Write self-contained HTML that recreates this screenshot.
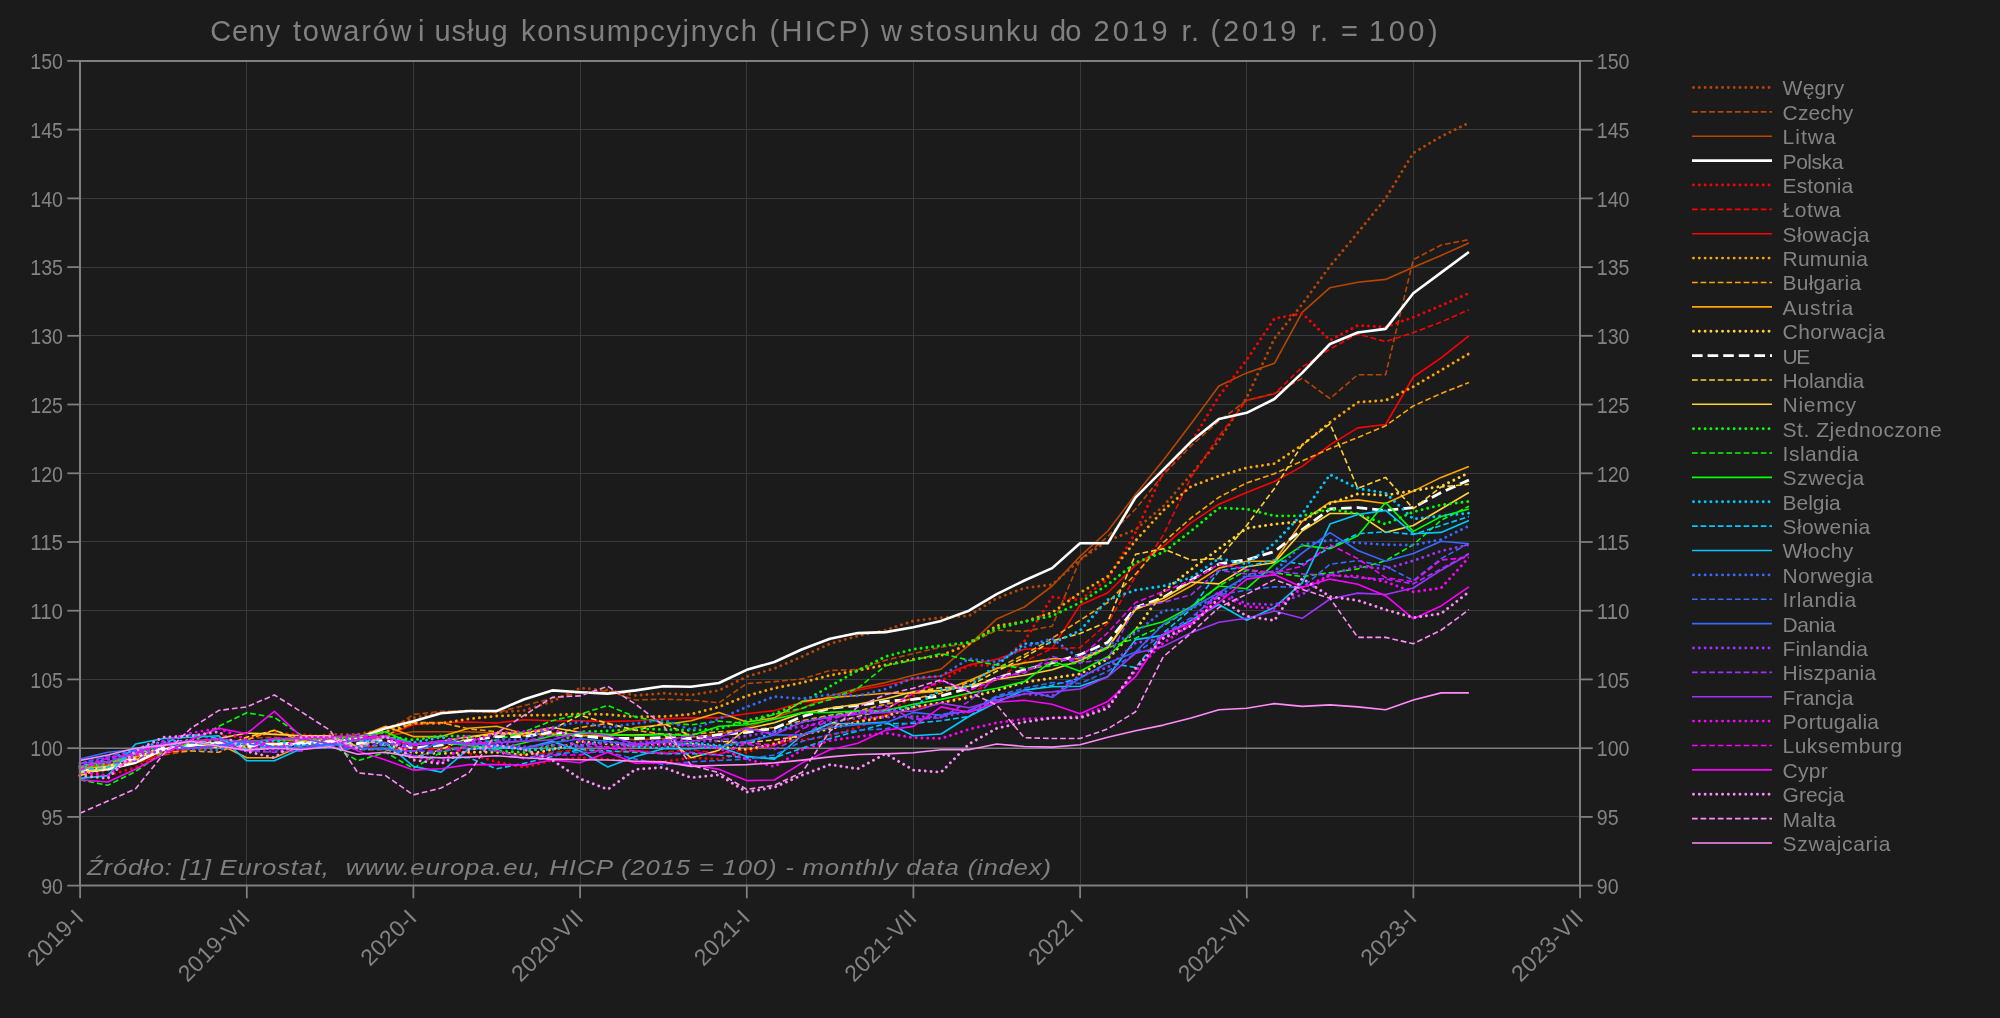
<!DOCTYPE html>
<html lang="pl"><head><meta charset="utf-8"><title>HICP</title>
<style>html,body{margin:0;padding:0;background:#1b1b1b;}body{width:2000px;height:1018px;overflow:hidden;}svg{display:block;will-change:transform;}text{font-family:"Liberation Sans",sans-serif;}</style>
</head><body>
<svg width="2000" height="1018" viewBox="0 0 2000 1018">
<rect x="0" y="0" width="2000" height="1018" fill="#1b1b1b"/>
<g stroke="#3a3a3a" stroke-width="1" shape-rendering="crispEdges">
<line x1="246.5" y1="60.9" x2="246.5" y2="885.6"/>
<line x1="413.5" y1="60.9" x2="413.5" y2="885.6"/>
<line x1="580.5" y1="60.9" x2="580.5" y2="885.6"/>
<line x1="746.5" y1="60.9" x2="746.5" y2="885.6"/>
<line x1="913.5" y1="60.9" x2="913.5" y2="885.6"/>
<line x1="1080.5" y1="60.9" x2="1080.5" y2="885.6"/>
<line x1="1246.5" y1="60.9" x2="1246.5" y2="885.6"/>
<line x1="1413.5" y1="60.9" x2="1413.5" y2="885.6"/>
<line x1="80.0" y1="816.5" x2="1580.0" y2="816.5"/>
<line x1="80.0" y1="679.5" x2="1580.0" y2="679.5"/>
<line x1="80.0" y1="610.5" x2="1580.0" y2="610.5"/>
<line x1="80.0" y1="541.5" x2="1580.0" y2="541.5"/>
<line x1="80.0" y1="473.5" x2="1580.0" y2="473.5"/>
<line x1="80.0" y1="404.5" x2="1580.0" y2="404.5"/>
<line x1="80.0" y1="335.5" x2="1580.0" y2="335.5"/>
<line x1="80.0" y1="267.5" x2="1580.0" y2="267.5"/>
<line x1="80.0" y1="198.5" x2="1580.0" y2="198.5"/>
<line x1="80.0" y1="129.5" x2="1580.0" y2="129.5"/>
</g>
<line x1="80.0" y1="748.15" x2="1580.0" y2="748.15" stroke="#7f7f7f" stroke-width="1.5"/>
<g fill="none" stroke-linejoin="round">
<polyline points="80.0,775.6 107.8,770.1 135.6,761.9 163.3,750.9 191.1,742.7 218.9,742.7 246.7,741.3 274.4,742.7 302.2,738.5 330.0,734.4 357.8,734.4 385.6,728.9 413.3,717.9 441.1,712.4 468.9,710.6 496.7,712.4 524.4,710.4 552.2,701.4 580.0,688.2 607.8,689.9 635.6,695.5 663.3,693.2 691.1,695.0 718.9,690.4 746.7,676.7 774.4,668.4 802.2,656.5 830.0,643.7 857.8,635.9 885.6,630.2 913.3,620.9 941.1,617.6 968.9,615.9 996.7,598.3 1024.4,588.0 1052.2,584.6 1080.0,559.8 1107.8,540.6 1135.6,529.6 1163.3,506.2 1191.1,474.6 1218.9,440.3 1246.7,397.7 1274.4,338.5 1302.2,304.2 1330.0,266.1 1357.8,232.7 1385.6,198.4 1413.3,153.0 1441.1,136.5 1468.9,122.8" stroke="#b84600" stroke-width="2.9" stroke-dasharray="0.01 5.8" stroke-linecap="round"/>
<polyline points="80.0,771.5 107.8,768.8 135.6,763.3 163.3,755.0 191.1,750.9 218.9,745.4 246.7,738.5 274.4,737.2 302.2,741.3 330.0,737.2 357.8,735.8 385.6,733.0 413.3,714.5 441.1,711.3 468.9,711.0 496.7,712.4 524.4,705.5 552.2,698.3 580.0,692.5 607.8,690.8 635.6,700.0 663.3,699.2 691.1,700.0 718.9,702.8 746.7,683.5 774.4,681.6 802.2,678.9 830.0,670.5 857.8,669.5 885.6,660.2 913.3,653.6 941.1,647.1 968.9,643.7 996.7,630.2 1024.4,631.3 1052.2,626.2 1080.0,559.8 1107.8,536.5 1135.6,509.0 1163.3,474.6 1191.1,445.8 1218.9,421.0 1246.7,400.4 1274.4,393.5 1302.2,378.4 1330.0,398.5 1357.8,374.7 1385.6,374.7 1413.3,259.7 1441.1,245.1 1468.9,239.6" stroke="#b84600" stroke-width="1.6" stroke-dasharray="5.7 2.9"/>
<polyline points="80.0,767.4 107.8,764.6 135.6,757.8 163.3,748.2 191.1,744.0 218.9,742.7 246.7,745.4 274.4,745.4 302.2,744.0 330.0,741.3 357.8,739.9 385.6,735.8 413.3,731.7 441.1,731.7 468.9,731.7 496.7,733.0 524.4,735.8 552.2,733.0 580.0,734.4 607.8,737.2 635.6,739.9 663.3,738.5 691.1,737.2 718.9,734.4 746.7,727.5 774.4,717.9 802.2,708.3 830.0,695.9 857.8,688.2 885.6,682.6 913.3,675.3 941.1,669.1 968.9,645.1 996.7,618.9 1024.4,607.0 1052.2,586.0 1080.0,556.3 1107.8,531.0 1135.6,494.3 1163.3,460.2 1191.1,423.8 1218.9,386.0 1246.7,372.9 1274.4,363.3 1302.2,312.4 1330.0,287.7 1357.8,282.2 1385.6,279.4 1413.3,267.3 1441.1,255.4 1468.9,243.0" stroke="#b84600" stroke-width="1.6"/>
<polyline points="80.0,774.3 107.8,775.6 135.6,767.4 163.3,752.3 191.1,744.0 218.9,735.8 246.7,737.2 274.4,733.0 302.2,734.4 330.0,737.2 357.8,741.3 385.6,742.7 413.3,742.7 441.1,744.0 468.9,753.6 496.7,761.9 524.4,767.4 552.2,760.5 580.0,757.8 607.8,759.1 635.6,761.9 663.3,761.9 691.1,757.8 718.9,759.1 746.7,752.3 774.4,742.7 802.2,739.9 830.0,735.8 857.8,727.5 885.6,715.2 913.3,695.9 941.1,680.8 968.9,665.4 996.7,665.4 1024.4,641.2 1052.2,597.0 1080.0,600.1 1107.8,579.1 1135.6,532.4 1163.3,471.9 1191.1,442.3 1218.9,396.3 1246.7,359.9 1274.4,318.5 1302.2,313.4 1330.0,340.2 1357.8,325.4 1385.6,327.0 1413.3,317.2 1441.1,305.6 1468.9,293.2" stroke="#ff0000" stroke-width="2.9" stroke-dasharray="0.01 5.8" stroke-linecap="round"/>
<polyline points="80.0,768.8 107.8,766.0 135.6,756.4 163.3,748.2 191.1,742.7 218.9,739.9 246.7,741.3 274.4,744.0 302.2,744.0 330.0,744.0 357.8,745.4 385.6,749.5 413.3,748.2 441.1,749.5 468.9,748.2 496.7,750.9 524.4,755.0 552.2,752.3 580.0,749.5 607.8,752.3 635.6,750.9 663.3,752.3 691.1,749.5 718.9,753.6 746.7,749.5 774.4,745.4 802.2,735.8 830.0,726.2 857.8,720.7 885.6,715.2 913.3,708.3 941.1,702.8 968.9,694.5 996.7,679.4 1024.4,661.6 1052.2,648.4 1080.0,647.8 1107.8,623.1 1135.6,576.3 1163.3,535.1 1191.1,477.4 1218.9,436.1 1246.7,400.4 1274.4,393.8 1302.2,367.0 1330.0,349.1 1357.8,333.9 1385.6,341.6 1413.3,332.6 1441.1,322.1 1468.9,309.7" stroke="#ff0000" stroke-width="1.6" stroke-dasharray="5.7 2.9"/>
<polyline points="80.0,768.8 107.8,766.0 135.6,761.9 163.3,753.6 191.1,748.2 218.9,745.4 246.7,742.7 274.4,742.7 302.2,741.3 330.0,739.9 357.8,738.5 385.6,735.8 413.3,724.8 441.1,722.6 468.9,722.0 496.7,723.0 524.4,719.7 552.2,720.7 580.0,720.7 607.8,721.6 635.6,720.7 663.3,718.9 691.1,717.9 718.9,717.9 746.7,713.8 774.4,710.6 802.2,702.2 830.0,700.0 857.8,690.0 885.6,685.3 913.3,678.9 941.1,676.0 968.9,664.9 996.7,659.2 1024.4,649.2 1052.2,648.1 1080.0,605.2 1107.8,592.8 1135.6,565.3 1163.3,546.4 1191.1,522.7 1218.9,504.2 1246.7,492.5 1274.4,481.5 1302.2,466.4 1330.0,444.9 1357.8,427.9 1385.6,424.5 1413.3,377.0 1441.1,357.8 1468.9,335.8" stroke="#ff0000" stroke-width="1.6"/>
<polyline points="80.0,775.6 107.8,767.4 135.6,759.1 163.3,749.5 191.1,744.0 218.9,745.4 246.7,746.8 274.4,745.4 302.2,744.0 330.0,739.9 357.8,737.2 385.6,731.7 413.3,723.4 441.1,723.4 468.9,718.9 496.7,716.0 524.4,715.2 552.2,715.2 580.0,713.8 607.8,714.5 635.6,716.9 663.3,716.5 691.1,714.2 718.9,706.9 746.7,695.9 774.4,688.2 802.2,682.6 830.0,675.3 857.8,670.5 885.6,664.9 913.3,659.2 941.1,655.5 968.9,644.2 996.7,625.8 1024.4,621.7 1052.2,612.5 1080.0,592.8 1107.8,576.3 1135.6,540.6 1163.3,510.4 1191.1,486.4 1218.9,476.0 1246.7,467.8 1274.4,463.6 1302.2,444.9 1330.0,422.4 1357.8,402.2 1385.6,400.4 1413.3,386.7 1441.1,370.2 1468.9,353.7" stroke="#ffa500" stroke-width="2.9" stroke-dasharray="0.01 5.8" stroke-linecap="round"/>
<polyline points="80.0,767.4 107.8,761.9 135.6,759.1 163.3,752.3 191.1,750.9 218.9,752.3 246.7,739.9 274.4,730.3 302.2,741.3 330.0,742.7 357.8,744.0 385.6,735.8 413.3,722.6 441.1,722.6 468.9,728.9 496.7,731.7 524.4,735.8 552.2,734.4 580.0,727.5 607.8,723.4 635.6,730.3 663.3,734.4 691.1,734.4 718.9,731.7 746.7,730.3 774.4,727.5 802.2,720.7 830.0,715.2 857.8,711.0 885.6,704.2 913.3,698.7 941.1,693.2 968.9,682.2 996.7,668.4 1024.4,654.7 1052.2,638.2 1080.0,620.3 1107.8,602.5 1135.6,574.0 1163.3,542.5 1191.1,517.9 1218.9,497.3 1246.7,482.9 1274.4,473.8 1302.2,460.9 1330.0,448.5 1357.8,437.5 1385.6,425.8 1413.3,405.9 1441.1,393.5 1468.9,382.5" stroke="#ffa500" stroke-width="1.6" stroke-dasharray="5.7 2.9"/>
<polyline points="80.0,768.8 107.8,766.0 135.6,756.4 163.3,749.5 191.1,745.4 218.9,744.0 246.7,757.8 274.4,757.8 302.2,745.4 330.0,742.7 357.8,737.6 385.6,726.2 413.3,736.6 441.1,736.6 468.9,728.2 496.7,726.2 524.4,733.7 552.2,734.4 580.0,735.8 607.8,735.8 635.6,727.5 663.3,724.8 691.1,720.7 718.9,712.4 746.7,722.0 774.4,717.9 802.2,701.4 830.0,697.8 857.8,695.5 885.6,693.2 913.3,693.2 941.1,691.1 968.9,680.8 996.7,668.4 1024.4,662.9 1052.2,658.8 1080.0,658.8 1107.8,647.1 1135.6,608.0 1163.3,601.1 1191.1,586.0 1218.9,568.1 1246.7,561.2 1274.4,561.2 1302.2,521.4 1330.0,502.1 1357.8,499.9 1385.6,503.5 1413.3,491.1 1441.1,477.4 1468.9,466.4" stroke="#ffa500" stroke-width="1.6"/>
<polyline points="80.0,766.0 107.8,763.3 135.6,753.6 163.3,745.4 191.1,739.9 218.9,742.7 246.7,748.2 274.4,748.2 302.2,742.7 330.0,739.9 357.8,739.9 385.6,744.0 413.3,752.3 441.1,753.6 468.9,752.3 496.7,752.3 524.4,755.0 552.2,749.5 580.0,741.3 607.8,744.0 635.6,745.4 663.3,744.0 691.1,744.0 718.9,746.8 746.7,749.5 774.4,744.0 802.2,734.4 830.0,728.9 857.8,722.0 885.6,716.5 913.3,706.9 941.1,702.8 968.9,697.3 996.7,690.4 1024.4,682.2 1052.2,678.1 1080.0,673.9 1107.8,658.8 1135.6,629.9 1163.3,591.5 1191.1,569.5 1218.9,548.8 1246.7,528.2 1274.4,524.1 1302.2,521.4 1330.0,503.5 1357.8,493.9 1385.6,495.2 1413.3,490.7 1441.1,486.3 1468.9,472.8" stroke="#ffd232" stroke-width="2.9" stroke-dasharray="0.01 5.8" stroke-linecap="round"/>
<polyline points="80.0,772.1 107.8,769.3 135.6,762.7 163.3,749.5 191.1,745.4 218.9,743.1 246.7,744.0 274.4,744.0 302.2,744.0 330.0,742.2 357.8,738.5 385.6,728.2 413.3,721.3 441.1,713.2 468.9,711.0 496.7,711.0 524.4,699.2 552.2,690.4 580.0,692.3 607.8,693.6 635.6,690.4 663.3,686.3 691.1,686.7 718.9,683.0 746.7,669.8 774.4,662.0 802.2,649.2 830.0,638.7 857.8,633.1 885.6,632.1 913.3,627.2 941.1,620.9 968.9,610.7 996.7,594.2 1024.4,580.5 1052.2,568.1 1080.0,543.3 1107.8,543.3 1135.6,497.3 1163.3,469.7 1191.1,441.6 1218.9,419.0 1246.7,412.8 1274.4,399.0 1302.2,372.9 1330.0,344.0 1357.8,332.5 1385.6,328.9 1413.3,293.2 1441.1,272.6 1468.9,252.0" stroke="#ffffff" stroke-width="2.6"/>
<polyline points="80.0,771.5 107.8,767.4 135.6,758.0 163.3,747.7 191.1,745.0 218.9,742.7 246.7,746.5 274.4,744.0 302.2,742.7 330.0,741.3 357.8,743.5 385.6,740.3 413.3,748.2 441.1,745.0 468.9,740.3 496.7,736.6 524.4,736.6 552.2,731.9 580.0,735.8 607.8,738.5 635.6,738.5 663.3,737.6 691.1,738.5 718.9,734.7 746.7,732.3 774.4,728.4 802.2,716.5 830.0,708.3 857.8,705.5 885.6,701.4 913.3,699.4 941.1,695.9 968.9,688.2 996.7,678.1 1024.4,669.8 1052.2,662.9 1080.0,654.7 1107.8,642.3 1135.6,607.5 1163.3,597.6 1191.1,580.0 1218.9,564.0 1246.7,559.8 1274.4,551.6 1302.2,529.6 1330.0,509.0 1357.8,507.6 1385.6,510.4 1413.3,507.6 1441.1,492.5 1468.9,480.1" stroke="#ffffff" stroke-width="2.8" stroke-dasharray="10.6 5"/>
<polyline points="80.0,775.6 107.8,767.4 135.6,755.0 163.3,745.4 191.1,742.2 218.9,748.2 246.7,737.2 274.4,730.3 302.2,739.9 330.0,738.5 357.8,749.5 385.6,749.5 413.3,757.8 441.1,749.5 468.9,737.6 496.7,733.9 524.4,733.9 552.2,729.2 580.0,715.2 607.8,723.4 635.6,730.3 663.3,723.4 691.1,735.8 718.9,741.3 746.7,742.7 774.4,739.9 802.2,735.8 830.0,723.4 857.8,716.5 885.6,709.7 913.3,691.8 941.1,687.7 968.9,686.3 996.7,671.2 1024.4,657.4 1052.2,640.9 1080.0,633.5 1107.8,621.7 1135.6,554.3 1163.3,548.8 1191.1,560.1 1218.9,558.5 1246.7,525.5 1274.4,488.4 1302.2,444.9 1330.0,423.8 1357.8,488.4 1385.6,477.4 1413.3,508.7 1441.1,487.0 1468.9,484.2" stroke="#ffd232" stroke-width="1.6" stroke-dasharray="5.7 2.9"/>
<polyline points="80.0,772.9 107.8,767.4 135.6,760.5 163.3,744.2 191.1,742.7 218.9,738.5 246.7,733.0 274.4,734.4 302.2,735.8 330.0,735.8 357.8,746.8 385.6,736.7 413.3,744.6 441.1,741.3 468.9,736.7 496.7,733.0 524.4,733.0 552.2,727.5 580.0,732.2 607.8,735.0 635.6,735.0 663.3,734.0 691.1,757.8 718.9,750.2 746.7,728.8 774.4,722.7 802.2,713.0 830.0,708.3 857.8,704.2 885.6,698.7 913.3,691.8 941.1,690.4 968.9,686.3 996.7,679.4 1024.4,675.3 1052.2,669.8 1080.0,660.6 1107.8,647.8 1135.6,609.5 1163.3,598.3 1191.1,582.0 1218.9,583.9 1246.7,566.7 1274.4,562.6 1302.2,531.0 1330.0,513.5 1357.8,513.5 1385.6,532.4 1413.3,525.5 1441.1,509.0 1468.9,492.5" stroke="#ffd232" stroke-width="1.6"/>
<polyline points="80.0,768.8 107.8,763.3 135.6,755.0 163.3,743.8 191.1,741.0 218.9,745.4 246.7,742.7 274.4,740.0 302.2,738.7 330.0,738.5 357.8,739.9 385.6,736.3 413.3,739.9 441.1,735.8 468.9,736.3 496.7,750.9 524.4,752.5 552.2,745.4 580.0,731.8 607.8,731.0 635.6,728.9 663.3,729.5 691.1,730.3 718.9,728.9 746.7,720.7 774.4,713.8 802.2,702.2 830.0,686.3 857.8,670.5 885.6,656.5 913.3,649.2 941.1,645.7 968.9,642.3 996.7,628.6 1024.4,621.7 1052.2,615.9 1080.0,602.6 1107.8,584.6 1135.6,562.6 1163.3,552.3 1191.1,531.0 1218.9,508.0 1246.7,509.0 1274.4,515.9 1302.2,515.9 1330.0,509.0 1357.8,513.9 1385.6,524.1 1413.3,511.9 1441.1,504.9 1468.9,501.3" stroke="#00ff00" stroke-width="2.9" stroke-dasharray="0.01 5.8" stroke-linecap="round"/>
<polyline points="80.0,779.8 107.8,785.3 135.6,771.5 163.3,752.3 191.1,742.7 218.9,726.2 246.7,712.8 274.4,717.4 302.2,735.8 330.0,744.0 357.8,760.8 385.6,752.3 413.3,768.4 441.1,752.3 468.9,745.4 496.7,739.9 524.4,731.7 552.2,720.7 580.0,714.2 607.8,705.5 635.6,716.9 663.3,722.6 691.1,724.8 718.9,721.1 746.7,723.4 774.4,714.3 802.2,708.3 830.0,699.4 857.8,688.2 885.6,665.7 913.3,660.2 941.1,653.6 968.9,660.2 996.7,664.9 1024.4,668.4 1052.2,665.7 1080.0,662.9 1107.8,647.8 1135.6,638.2 1163.3,625.8 1191.1,608.0 1218.9,586.0 1246.7,570.2 1274.4,572.8 1302.2,576.6 1330.0,572.8 1357.8,568.9 1385.6,560.7 1413.3,544.7 1441.1,520.3 1468.9,506.2" stroke="#00ff00" stroke-width="1.6" stroke-dasharray="5.7 2.9"/>
<polyline points="80.0,766.0 107.8,761.9 135.6,754.1 163.3,743.8 191.1,741.0 218.9,746.8 246.7,741.3 274.4,740.0 302.2,739.9 330.0,737.3 357.8,737.2 385.6,731.7 413.3,744.2 441.1,742.7 468.9,745.4 496.7,749.5 524.4,742.7 552.2,735.8 580.0,733.0 607.8,734.4 635.6,735.8 663.3,734.4 691.1,735.8 718.9,726.2 746.7,724.8 774.4,719.3 802.2,712.6 830.0,712.4 857.8,711.0 885.6,710.6 913.3,704.2 941.1,699.4 968.9,693.2 996.7,688.2 1024.4,681.6 1052.2,661.1 1080.0,671.2 1107.8,656.7 1135.6,629.1 1163.3,621.7 1191.1,606.6 1218.9,586.0 1246.7,588.7 1274.4,564.0 1302.2,545.4 1330.0,548.8 1357.8,535.7 1385.6,502.5 1413.3,531.4 1441.1,516.5 1468.9,509.0" stroke="#00ff00" stroke-width="1.6"/>
<polyline points="80.0,767.4 107.8,759.1 135.6,749.5 163.3,741.3 191.1,741.3 218.9,739.9 246.7,744.0 274.4,740.5 302.2,746.8 330.0,737.7 357.8,739.9 385.6,736.7 413.3,742.7 441.1,737.2 468.9,744.0 496.7,746.8 524.4,749.5 552.2,749.5 580.0,745.4 607.8,741.3 635.6,746.8 663.3,748.2 691.1,742.7 718.9,745.4 746.7,744.0 774.4,731.7 802.2,722.0 830.0,716.5 857.8,712.4 885.6,711.0 913.3,706.9 941.1,689.7 968.9,686.3 996.7,665.0 1024.4,643.7 1052.2,643.0 1080.0,630.6 1107.8,599.7 1135.6,590.1 1163.3,586.0 1191.1,577.7 1218.9,558.5 1246.7,564.0 1274.4,543.3 1302.2,513.9 1330.0,474.6 1357.8,488.4 1385.6,493.0 1413.3,519.0 1441.1,515.9 1468.9,513.1" stroke="#00c8ff" stroke-width="2.9" stroke-dasharray="0.01 5.8" stroke-linecap="round"/>
<polyline points="80.0,770.1 107.8,767.4 135.6,753.6 163.3,742.7 191.1,734.4 218.9,738.5 246.7,749.2 274.4,746.8 302.2,745.4 330.0,744.0 357.8,746.2 385.6,745.4 413.3,756.4 441.1,757.8 468.9,757.8 496.7,768.8 524.4,763.3 552.2,756.4 580.0,749.5 607.8,750.9 635.6,752.3 663.3,753.6 691.1,753.6 718.9,755.0 746.7,757.8 774.4,757.8 802.2,748.2 830.0,738.5 857.8,731.1 885.6,723.7 913.3,723.4 941.1,720.7 968.9,716.5 996.7,697.3 1024.4,690.4 1052.2,685.3 1080.0,678.1 1107.8,662.9 1135.6,667.5 1163.3,633.1 1191.1,609.3 1218.9,570.8 1246.7,566.7 1274.4,559.8 1302.2,564.2 1330.0,547.5 1357.8,533.7 1385.6,531.8 1413.3,534.4 1441.1,525.5 1468.9,516.5" stroke="#00c8ff" stroke-width="1.6" stroke-dasharray="5.7 2.9"/>
<polyline points="80.0,778.4 107.8,775.6 135.6,744.0 163.3,738.5 191.1,737.2 218.9,735.8 246.7,760.8 274.4,760.8 302.2,748.2 330.0,745.4 357.8,739.9 385.6,742.7 413.3,766.4 441.1,772.1 468.9,748.7 496.7,748.2 524.4,748.2 552.2,741.3 580.0,750.9 607.8,767.0 635.6,756.4 663.3,748.7 691.1,748.7 718.9,746.8 746.7,756.4 774.4,759.1 802.2,735.0 830.0,723.7 857.8,723.7 885.6,722.0 913.3,735.8 941.1,734.0 968.9,716.5 996.7,702.2 1024.4,690.0 1052.2,686.7 1080.0,686.3 1107.8,676.7 1135.6,639.6 1163.3,635.4 1191.1,620.3 1218.9,604.5 1246.7,620.3 1274.4,607.3 1302.2,582.9 1330.0,524.1 1357.8,514.5 1385.6,510.4 1413.3,533.7 1441.1,532.4 1468.9,520.4" stroke="#00c8ff" stroke-width="1.6"/>
<polyline points="80.0,763.3 107.8,757.8 135.6,755.0 163.3,745.4 191.1,749.5 218.9,750.2 246.7,741.3 274.4,749.5 302.2,745.4 330.0,744.0 357.8,739.9 385.6,743.1 413.3,745.4 441.1,742.7 468.9,743.1 496.7,739.9 524.4,739.4 552.2,727.5 580.0,721.6 607.8,727.5 635.6,723.4 663.3,719.7 691.1,729.6 718.9,718.9 746.7,706.9 774.4,696.6 802.2,698.7 830.0,694.5 857.8,695.9 885.6,689.0 913.3,678.1 941.1,676.0 968.9,658.8 996.7,662.0 1024.4,647.1 1052.2,638.5 1080.0,658.8 1107.8,645.1 1135.6,633.1 1163.3,610.7 1191.1,608.5 1218.9,597.0 1246.7,575.0 1274.4,571.4 1302.2,544.7 1330.0,540.2 1357.8,542.8 1385.6,544.7 1413.3,545.1 1441.1,539.5 1468.9,525.9" stroke="#3769ff" stroke-width="2.9" stroke-dasharray="0.01 5.8" stroke-linecap="round"/>
<polyline points="80.0,763.3 107.8,756.4 135.6,750.9 163.3,744.0 191.1,742.7 218.9,745.4 246.7,744.0 274.4,746.8 302.2,748.2 330.0,748.2 357.8,749.5 385.6,748.2 413.3,756.4 441.1,750.9 468.9,748.2 496.7,750.9 524.4,757.8 552.2,753.6 580.0,752.3 607.8,752.3 635.6,759.1 663.3,764.6 691.1,761.9 718.9,760.5 746.7,759.1 774.4,755.0 802.2,741.3 830.0,734.4 857.8,730.3 885.6,728.9 913.3,722.0 941.1,714.3 968.9,710.6 996.7,695.9 1024.4,688.2 1052.2,682.6 1080.0,683.5 1107.8,671.2 1135.6,653.3 1163.3,634.1 1191.1,617.6 1218.9,594.8 1246.7,590.1 1274.4,586.8 1302.2,587.3 1330.0,564.2 1357.8,560.7 1385.6,566.3 1413.3,580.5 1441.1,558.6 1468.9,543.3" stroke="#3769ff" stroke-width="1.6" stroke-dasharray="5.7 2.9"/>
<polyline points="80.0,759.1 107.8,752.3 135.6,749.5 163.3,744.0 191.1,748.2 218.9,745.4 246.7,739.9 274.4,747.2 302.2,748.2 330.0,744.0 357.8,748.2 385.6,749.5 413.3,751.3 441.1,742.7 468.9,744.0 496.7,745.4 524.4,748.2 552.2,742.7 580.0,738.9 607.8,741.3 635.6,745.4 663.3,741.3 691.1,745.4 718.9,746.8 746.7,741.3 774.4,735.0 802.2,735.0 830.0,727.5 857.8,724.8 885.6,722.7 913.3,712.4 941.1,715.2 968.9,711.0 996.7,697.3 1024.4,690.4 1052.2,697.3 1080.0,678.1 1107.8,662.9 1135.6,651.9 1163.3,624.4 1191.1,608.0 1218.9,592.8 1246.7,576.3 1274.4,575.2 1302.2,553.0 1330.0,532.6 1357.8,550.5 1385.6,561.2 1413.3,553.5 1441.1,541.3 1468.9,543.8" stroke="#3769ff" stroke-width="1.6"/>
<polyline points="80.0,763.3 107.8,759.1 135.6,755.0 163.3,750.9 191.1,748.2 218.9,745.8 246.7,750.2 274.4,751.6 302.2,748.2 330.0,746.8 357.8,746.6 385.6,744.0 413.3,745.4 441.1,741.3 468.9,743.5 496.7,742.7 524.4,746.8 552.2,745.4 580.0,745.4 607.8,742.7 635.6,742.7 663.3,739.9 691.1,741.3 718.9,741.3 746.7,735.8 774.4,731.7 802.2,726.2 830.0,722.0 857.8,717.9 885.6,717.2 913.3,716.5 941.1,717.2 968.9,711.0 996.7,700.0 1024.4,693.9 1052.2,695.9 1080.0,675.3 1107.8,667.5 1135.6,642.9 1163.3,638.2 1191.1,620.3 1218.9,591.5 1246.7,603.8 1274.4,604.7 1302.2,594.5 1330.0,574.6 1357.8,566.3 1385.6,568.9 1413.3,560.7 1441.1,551.0 1468.9,544.7" stroke="#a032ff" stroke-width="2.9" stroke-dasharray="0.01 5.8" stroke-linecap="round"/>
<polyline points="80.0,766.0 107.8,763.3 135.6,761.2 163.3,744.0 191.1,741.3 218.9,745.8 246.7,750.9 274.4,752.3 302.2,750.9 330.0,737.2 357.8,734.4 385.6,735.8 413.3,751.3 441.1,750.9 468.9,745.4 496.7,741.3 524.4,741.3 552.2,734.4 580.0,746.8 607.8,746.8 635.6,744.0 663.3,740.7 691.1,735.8 718.9,737.8 746.7,744.0 774.4,749.5 802.2,735.8 830.0,719.3 857.8,712.4 885.6,705.5 913.3,719.3 941.1,717.9 968.9,701.4 996.7,677.0 1024.4,673.2 1052.2,656.5 1080.0,662.9 1107.8,658.8 1135.6,606.6 1163.3,602.5 1191.1,594.8 1218.9,570.2 1246.7,574.0 1274.4,571.4 1302.2,574.0 1330.0,575.0 1357.8,577.8 1385.6,579.1 1413.3,583.8 1441.1,568.9 1468.9,553.5" stroke="#a032ff" stroke-width="1.6" stroke-dasharray="5.7 2.9"/>
<polyline points="80.0,763.3 107.8,761.9 135.6,752.3 163.3,743.8 191.1,741.0 218.9,738.7 246.7,742.5 274.4,738.5 302.2,738.7 330.0,744.0 357.8,739.5 385.6,737.2 413.3,744.0 441.1,741.0 468.9,744.0 496.7,742.7 524.4,741.3 552.2,739.9 580.0,731.8 607.8,735.8 635.6,744.0 663.3,742.7 691.1,741.3 718.9,737.2 746.7,728.4 774.4,734.4 802.2,722.0 830.0,717.1 857.8,714.3 885.6,712.4 913.3,711.0 941.1,703.1 968.9,707.7 996.7,700.3 1024.4,693.9 1052.2,691.9 1080.0,689.0 1107.8,676.7 1135.6,653.3 1163.3,646.4 1191.1,632.7 1218.9,622.2 1246.7,618.3 1274.4,611.1 1302.2,618.3 1330.0,599.0 1357.8,593.1 1385.6,594.5 1413.3,588.0 1441.1,570.2 1468.9,554.1" stroke="#a032ff" stroke-width="1.6"/>
<polyline points="80.0,771.5 107.8,775.6 135.6,755.0 163.3,741.3 191.1,733.0 218.9,728.2 246.7,739.9 274.4,749.5 302.2,738.5 330.0,737.8 357.8,738.5 385.6,736.7 413.3,756.4 441.1,761.9 468.9,742.7 496.7,733.0 524.4,731.7 552.2,728.4 580.0,741.3 607.8,748.2 635.6,745.4 663.3,745.4 691.1,745.4 718.9,748.2 746.7,759.1 774.4,766.7 802.2,749.8 830.0,740.5 857.8,736.7 885.6,733.0 913.3,737.7 941.1,738.5 968.9,729.3 996.7,722.7 1024.4,719.0 1052.2,717.9 1080.0,716.5 1107.8,705.8 1135.6,670.5 1163.3,642.9 1191.1,624.4 1218.9,594.2 1246.7,606.6 1274.4,608.5 1302.2,588.0 1330.0,575.2 1357.8,576.3 1385.6,581.8 1413.3,591.9 1441.1,588.0 1468.9,557.4" stroke="#ff00ff" stroke-width="2.9" stroke-dasharray="0.01 5.8" stroke-linecap="round"/>
<polyline points="80.0,770.1 107.8,757.8 135.6,753.6 163.3,744.2 191.1,740.6 218.9,739.9 246.7,751.6 274.4,738.5 302.2,737.8 330.0,736.5 357.8,736.5 385.6,737.2 413.3,745.4 441.1,741.4 468.9,735.8 496.7,750.9 524.4,759.1 552.2,755.0 580.0,755.0 607.8,748.2 635.6,750.9 663.3,753.6 691.1,752.3 718.9,755.0 746.7,742.7 774.4,745.4 802.2,728.9 830.0,717.9 857.8,712.4 885.6,709.7 913.3,693.2 941.1,680.8 968.9,690.4 996.7,679.4 1024.4,671.2 1052.2,661.6 1080.0,657.4 1107.8,632.7 1135.6,602.5 1163.3,591.5 1191.1,581.0 1218.9,564.0 1246.7,569.5 1274.4,572.8 1302.2,566.3 1330.0,544.7 1357.8,558.6 1385.6,577.7 1413.3,581.7 1441.1,560.0 1468.9,557.4" stroke="#ff00ff" stroke-width="1.6" stroke-dasharray="5.7 2.9"/>
<polyline points="80.0,779.8 107.8,782.0 135.6,769.3 163.3,754.3 191.1,739.4 218.9,728.2 246.7,733.7 274.4,711.3 302.2,737.6 330.0,737.6 357.8,750.9 385.6,760.0 413.3,770.1 441.1,768.8 468.9,764.6 496.7,764.6 524.4,765.1 552.2,760.0 580.0,762.7 607.8,752.3 635.6,763.3 663.3,762.7 691.1,764.6 718.9,769.3 746.7,780.6 774.4,780.0 802.2,762.9 830.0,749.8 857.8,743.3 885.6,730.3 913.3,726.4 941.1,706.9 968.9,712.4 996.7,702.2 1024.4,700.3 1052.2,704.2 1080.0,713.8 1107.8,701.4 1135.6,676.7 1163.3,634.1 1191.1,623.1 1218.9,602.5 1246.7,579.1 1274.4,574.6 1302.2,587.3 1330.0,579.1 1357.8,584.2 1385.6,595.7 1413.3,618.7 1441.1,605.9 1468.9,586.8" stroke="#ff00ff" stroke-width="1.6"/>
<polyline points="80.0,775.6 107.8,778.4 135.6,750.9 163.3,737.2 191.1,735.8 218.9,731.7 246.7,751.4 274.4,757.8 302.2,736.5 330.0,736.5 357.8,748.2 385.6,735.8 413.3,760.0 441.1,763.7 468.9,749.5 496.7,745.4 524.4,749.5 552.2,760.0 580.0,778.7 607.8,789.4 635.6,769.3 663.3,767.4 691.1,777.7 718.9,774.8 746.7,792.1 774.4,787.2 802.2,775.1 830.0,764.6 857.8,768.8 885.6,753.6 913.3,770.1 941.1,772.2 968.9,744.0 996.7,728.4 1024.4,722.0 1052.2,717.9 1080.0,717.9 1107.8,708.3 1135.6,668.4 1163.3,638.2 1191.1,625.8 1218.9,598.3 1246.7,616.2 1274.4,620.5 1302.2,578.5 1330.0,596.5 1357.8,600.4 1385.6,609.7 1413.3,617.6 1441.1,613.6 1468.9,591.9" stroke="#ff8cfa" stroke-width="2.9" stroke-dasharray="0.01 5.8" stroke-linecap="round"/>
<polyline points="80.0,813.2 107.8,801.1 135.6,788.8 163.3,754.3 191.1,728.2 218.9,710.4 246.7,706.9 274.4,695.0 302.2,712.4 330.0,730.3 357.8,772.9 385.6,775.6 413.3,794.9 441.1,788.0 468.9,772.9 496.7,733.0 524.4,715.2 552.2,697.3 580.0,695.9 607.8,686.3 635.6,704.2 663.3,725.3 691.1,765.3 718.9,772.6 746.7,789.4 774.4,785.3 802.2,772.2 830.0,731.1 857.8,706.9 885.6,694.5 913.3,688.2 941.1,679.8 968.9,691.9 996.7,705.0 1024.4,737.7 1052.2,738.5 1080.0,738.5 1107.8,728.9 1135.6,711.7 1163.3,656.7 1191.1,633.1 1218.9,607.5 1246.7,594.2 1274.4,579.6 1302.2,589.4 1330.0,598.3 1357.8,637.4 1385.6,637.4 1413.3,643.7 1441.1,630.2 1468.9,609.7" stroke="#ff8cfa" stroke-width="1.6" stroke-dasharray="5.7 2.9"/>
<polyline points="80.0,760.5 107.8,755.0 135.6,748.2 163.3,745.4 191.1,741.3 218.9,746.2 246.7,750.1 274.4,748.2 302.2,749.5 330.0,746.8 357.8,754.3 385.6,752.3 413.3,757.1 441.1,757.8 468.9,757.1 496.7,755.8 524.4,757.8 552.2,759.1 580.0,759.8 607.8,760.0 635.6,761.2 663.3,761.9 691.1,766.4 718.9,765.2 746.7,764.6 774.4,762.9 802.2,760.1 830.0,756.9 857.8,754.5 885.6,753.9 913.3,752.7 941.1,749.8 968.9,749.8 996.7,744.0 1024.4,746.5 1052.2,747.1 1080.0,744.7 1107.8,737.2 1135.6,730.8 1163.3,725.1 1191.1,717.9 1218.9,709.7 1246.7,708.3 1274.4,703.6 1302.2,706.4 1330.0,704.9 1357.8,706.9 1385.6,709.7 1413.3,700.0 1441.1,692.9 1468.9,692.9" stroke="#ff8cfa" stroke-width="1.6"/>
</g>
<g stroke="#7f7f7f" stroke-width="2" fill="none">
<line x1="80.0" y1="59.9" x2="80.0" y2="886.6"/>
<line x1="1580.0" y1="59.9" x2="1580.0" y2="886.6"/>
<line x1="80.0" y1="60.9" x2="1580.0" y2="60.9"/>
<line x1="80.0" y1="885.6" x2="1580.0" y2="885.6"/>
</g><g stroke="#7f7f7f" stroke-width="1.8" fill="none">
<line x1="67.3" y1="885.6" x2="80.0" y2="885.6"/>
<line x1="1580.0" y1="885.6" x2="1592.7" y2="885.6"/>
<line x1="67.3" y1="816.9" x2="80.0" y2="816.9"/>
<line x1="1580.0" y1="816.9" x2="1592.7" y2="816.9"/>
<line x1="67.3" y1="748.2" x2="80.0" y2="748.2"/>
<line x1="1580.0" y1="748.2" x2="1592.7" y2="748.2"/>
<line x1="67.3" y1="679.4" x2="80.0" y2="679.4"/>
<line x1="1580.0" y1="679.4" x2="1592.7" y2="679.4"/>
<line x1="67.3" y1="610.7" x2="80.0" y2="610.7"/>
<line x1="1580.0" y1="610.7" x2="1592.7" y2="610.7"/>
<line x1="67.3" y1="542.0" x2="80.0" y2="542.0"/>
<line x1="1580.0" y1="542.0" x2="1592.7" y2="542.0"/>
<line x1="67.3" y1="473.3" x2="80.0" y2="473.3"/>
<line x1="1580.0" y1="473.3" x2="1592.7" y2="473.3"/>
<line x1="67.3" y1="404.5" x2="80.0" y2="404.5"/>
<line x1="1580.0" y1="404.5" x2="1592.7" y2="404.5"/>
<line x1="67.3" y1="335.8" x2="80.0" y2="335.8"/>
<line x1="1580.0" y1="335.8" x2="1592.7" y2="335.8"/>
<line x1="67.3" y1="267.1" x2="80.0" y2="267.1"/>
<line x1="1580.0" y1="267.1" x2="1592.7" y2="267.1"/>
<line x1="67.3" y1="198.4" x2="80.0" y2="198.4"/>
<line x1="1580.0" y1="198.4" x2="1592.7" y2="198.4"/>
<line x1="67.3" y1="129.6" x2="80.0" y2="129.6"/>
<line x1="1580.0" y1="129.6" x2="1592.7" y2="129.6"/>
<line x1="67.3" y1="60.9" x2="80.0" y2="60.9"/>
<line x1="1580.0" y1="60.9" x2="1592.7" y2="60.9"/>
<line x1="80.1" y1="885.6" x2="80.1" y2="898.3"/>
<line x1="246.8" y1="885.6" x2="246.8" y2="898.3"/>
<line x1="413.4" y1="885.6" x2="413.4" y2="898.3"/>
<line x1="580.1" y1="885.6" x2="580.1" y2="898.3"/>
<line x1="746.8" y1="885.6" x2="746.8" y2="898.3"/>
<line x1="913.4" y1="885.6" x2="913.4" y2="898.3"/>
<line x1="1080.1" y1="885.6" x2="1080.1" y2="898.3"/>
<line x1="1246.8" y1="885.6" x2="1246.8" y2="898.3"/>
<line x1="1413.4" y1="885.6" x2="1413.4" y2="898.3"/>
<line x1="1580.1" y1="885.6" x2="1580.1" y2="898.3"/>
</g>
<g fill="#838383" font-size="21.7">
<text x="63.0" y="893.8" text-anchor="end" textLength="21.8" lengthAdjust="spacingAndGlyphs">90</text>
<text x="1596.8" y="893.8" textLength="21.8" lengthAdjust="spacingAndGlyphs">90</text>
<text x="63.0" y="825.1" text-anchor="end" textLength="21.8" lengthAdjust="spacingAndGlyphs">95</text>
<text x="1596.8" y="825.1" textLength="21.8" lengthAdjust="spacingAndGlyphs">95</text>
<text x="63.0" y="756.4" text-anchor="end" textLength="32.7" lengthAdjust="spacingAndGlyphs">100</text>
<text x="1596.8" y="756.4" textLength="32.7" lengthAdjust="spacingAndGlyphs">100</text>
<text x="63.0" y="687.6" text-anchor="end" textLength="32.7" lengthAdjust="spacingAndGlyphs">105</text>
<text x="1596.8" y="687.6" textLength="32.7" lengthAdjust="spacingAndGlyphs">105</text>
<text x="63.0" y="618.9" text-anchor="end" textLength="32.7" lengthAdjust="spacingAndGlyphs">110</text>
<text x="1596.8" y="618.9" textLength="32.7" lengthAdjust="spacingAndGlyphs">110</text>
<text x="63.0" y="550.2" text-anchor="end" textLength="32.7" lengthAdjust="spacingAndGlyphs">115</text>
<text x="1596.8" y="550.2" textLength="32.7" lengthAdjust="spacingAndGlyphs">115</text>
<text x="63.0" y="481.5" text-anchor="end" textLength="32.7" lengthAdjust="spacingAndGlyphs">120</text>
<text x="1596.8" y="481.5" textLength="32.7" lengthAdjust="spacingAndGlyphs">120</text>
<text x="63.0" y="412.7" text-anchor="end" textLength="32.7" lengthAdjust="spacingAndGlyphs">125</text>
<text x="1596.8" y="412.7" textLength="32.7" lengthAdjust="spacingAndGlyphs">125</text>
<text x="63.0" y="344.0" text-anchor="end" textLength="32.7" lengthAdjust="spacingAndGlyphs">130</text>
<text x="1596.8" y="344.0" textLength="32.7" lengthAdjust="spacingAndGlyphs">130</text>
<text x="63.0" y="275.3" text-anchor="end" textLength="32.7" lengthAdjust="spacingAndGlyphs">135</text>
<text x="1596.8" y="275.3" textLength="32.7" lengthAdjust="spacingAndGlyphs">135</text>
<text x="63.0" y="206.6" text-anchor="end" textLength="32.7" lengthAdjust="spacingAndGlyphs">140</text>
<text x="1596.8" y="206.6" textLength="32.7" lengthAdjust="spacingAndGlyphs">140</text>
<text x="63.0" y="137.8" text-anchor="end" textLength="32.7" lengthAdjust="spacingAndGlyphs">145</text>
<text x="1596.8" y="137.8" textLength="32.7" lengthAdjust="spacingAndGlyphs">145</text>
<text x="63.0" y="69.1" text-anchor="end" textLength="32.7" lengthAdjust="spacingAndGlyphs">150</text>
<text x="1596.8" y="69.1" textLength="32.7" lengthAdjust="spacingAndGlyphs">150</text>
</g>
<g fill="#838383" font-size="23" text-anchor="end">
<text transform="translate(85.0,918.8) rotate(-45)" letter-spacing="0.5">2019-I</text>
<text transform="translate(251.7,918.8) rotate(-45)" letter-spacing="0.5">2019-VII</text>
<text transform="translate(418.3,918.8) rotate(-45)" letter-spacing="0.5">2020-I</text>
<text transform="translate(585.0,918.8) rotate(-45)" letter-spacing="0.5">2020-VII</text>
<text transform="translate(751.7,918.8) rotate(-45)" letter-spacing="0.5">2021-I</text>
<text transform="translate(918.3,918.8) rotate(-45)" letter-spacing="0.5">2021-VII</text>
<text transform="translate(1085.0,918.8) rotate(-45)" letter-spacing="0.5">2022 I</text>
<text transform="translate(1251.7,918.8) rotate(-45)" letter-spacing="0.5">2022-VII</text>
<text transform="translate(1418.3,918.8) rotate(-45)" letter-spacing="0.5">2023-I</text>
<text transform="translate(1585.0,918.8) rotate(-45)" letter-spacing="0.5">2023-VII</text>
</g>
<g font-size="29" fill="#808080">
<text x="210.2" y="40.9" letter-spacing="0.77">Ceny</text>
<text x="293.0" y="40.9" letter-spacing="1.73">towarów</text>
<text x="418.0" y="40.9" letter-spacing="0.00">i</text>
<text x="434.5" y="40.9" letter-spacing="0.93">usług</text>
<text x="521.0" y="40.9" letter-spacing="1.66">konsumpcyjnych</text>
<text x="769.5" y="40.9" letter-spacing="2.38">(HICP)</text>
<text x="881.1" y="40.9" letter-spacing="0.00">w</text>
<text x="909.5" y="40.9" letter-spacing="1.84">stosunku</text>
<text x="1050.0" y="40.9" letter-spacing="-0.90">do</text>
<text x="1093.4" y="40.9" letter-spacing="3.20">2019</text>
<text x="1181.6" y="40.9" letter-spacing="1.30">r.</text>
<text x="1210.4" y="40.9" letter-spacing="2.97">(2019</text>
<text x="1311.0" y="40.9" letter-spacing="0.90">r.</text>
<text x="1341.0" y="40.9" letter-spacing="0.00">=</text>
<text x="1369.0" y="40.9" letter-spacing="3.50">100)</text>
</g>
<text transform="translate(87,874.5) scale(1.12,1)" x="0" y="0" font-size="23" font-style="italic" fill="#7f7f7f" textLength="860.7" lengthAdjust="spacing" xml:space="preserve" style="white-space:pre">Źródło: [1] Eurostat,  www.europa.eu, HICP (2015 = 100) - monthly data (index)</text>
<g fill="none">
<line x1="1693.5" y1="87.50" x2="1772.0" y2="87.50" stroke="#b84600" stroke-width="2.9" stroke-dasharray="0.01 5.8" stroke-linecap="round"/>
<line x1="1692.0" y1="111.87" x2="1772.0" y2="111.87" stroke="#b84600" stroke-width="1.6" stroke-dasharray="5.7 2.9"/>
<line x1="1692.0" y1="136.24" x2="1772.0" y2="136.24" stroke="#b84600" stroke-width="1.6"/>
<line x1="1692.0" y1="160.61" x2="1772.0" y2="160.61" stroke="#ffffff" stroke-width="2.6"/>
<line x1="1693.5" y1="184.98" x2="1772.0" y2="184.98" stroke="#ff0000" stroke-width="2.9" stroke-dasharray="0.01 5.8" stroke-linecap="round"/>
<line x1="1692.0" y1="209.35" x2="1772.0" y2="209.35" stroke="#ff0000" stroke-width="1.6" stroke-dasharray="5.7 2.9"/>
<line x1="1692.0" y1="233.72" x2="1772.0" y2="233.72" stroke="#ff0000" stroke-width="1.6"/>
<line x1="1693.5" y1="258.09" x2="1772.0" y2="258.09" stroke="#ffa500" stroke-width="2.9" stroke-dasharray="0.01 5.8" stroke-linecap="round"/>
<line x1="1692.0" y1="282.46" x2="1772.0" y2="282.46" stroke="#ffa500" stroke-width="1.6" stroke-dasharray="5.7 2.9"/>
<line x1="1692.0" y1="306.83" x2="1772.0" y2="306.83" stroke="#ffa500" stroke-width="1.6"/>
<line x1="1693.5" y1="331.20" x2="1772.0" y2="331.20" stroke="#ffd232" stroke-width="2.9" stroke-dasharray="0.01 5.8" stroke-linecap="round"/>
<line x1="1692.0" y1="355.57" x2="1772.0" y2="355.57" stroke="#ffffff" stroke-width="2.8" stroke-dasharray="10.6 5"/>
<line x1="1692.0" y1="379.94" x2="1772.0" y2="379.94" stroke="#ffd232" stroke-width="1.6" stroke-dasharray="5.7 2.9"/>
<line x1="1692.0" y1="404.31" x2="1772.0" y2="404.31" stroke="#ffd232" stroke-width="1.6"/>
<line x1="1693.5" y1="428.68" x2="1772.0" y2="428.68" stroke="#00ff00" stroke-width="2.9" stroke-dasharray="0.01 5.8" stroke-linecap="round"/>
<line x1="1692.0" y1="453.05" x2="1772.0" y2="453.05" stroke="#00ff00" stroke-width="1.6" stroke-dasharray="5.7 2.9"/>
<line x1="1692.0" y1="477.42" x2="1772.0" y2="477.42" stroke="#00ff00" stroke-width="1.6"/>
<line x1="1693.5" y1="501.79" x2="1772.0" y2="501.79" stroke="#00c8ff" stroke-width="2.9" stroke-dasharray="0.01 5.8" stroke-linecap="round"/>
<line x1="1692.0" y1="526.16" x2="1772.0" y2="526.16" stroke="#00c8ff" stroke-width="1.6" stroke-dasharray="5.7 2.9"/>
<line x1="1692.0" y1="550.53" x2="1772.0" y2="550.53" stroke="#00c8ff" stroke-width="1.6"/>
<line x1="1693.5" y1="574.90" x2="1772.0" y2="574.90" stroke="#3769ff" stroke-width="2.9" stroke-dasharray="0.01 5.8" stroke-linecap="round"/>
<line x1="1692.0" y1="599.27" x2="1772.0" y2="599.27" stroke="#3769ff" stroke-width="1.6" stroke-dasharray="5.7 2.9"/>
<line x1="1692.0" y1="623.64" x2="1772.0" y2="623.64" stroke="#3769ff" stroke-width="1.6"/>
<line x1="1693.5" y1="648.01" x2="1772.0" y2="648.01" stroke="#a032ff" stroke-width="2.9" stroke-dasharray="0.01 5.8" stroke-linecap="round"/>
<line x1="1692.0" y1="672.38" x2="1772.0" y2="672.38" stroke="#a032ff" stroke-width="1.6" stroke-dasharray="5.7 2.9"/>
<line x1="1692.0" y1="696.75" x2="1772.0" y2="696.75" stroke="#a032ff" stroke-width="1.6"/>
<line x1="1693.5" y1="721.12" x2="1772.0" y2="721.12" stroke="#ff00ff" stroke-width="2.9" stroke-dasharray="0.01 5.8" stroke-linecap="round"/>
<line x1="1692.0" y1="745.49" x2="1772.0" y2="745.49" stroke="#ff00ff" stroke-width="1.6" stroke-dasharray="5.7 2.9"/>
<line x1="1692.0" y1="769.86" x2="1772.0" y2="769.86" stroke="#ff00ff" stroke-width="1.6"/>
<line x1="1693.5" y1="794.23" x2="1772.0" y2="794.23" stroke="#ff8cfa" stroke-width="2.9" stroke-dasharray="0.01 5.8" stroke-linecap="round"/>
<line x1="1692.0" y1="818.60" x2="1772.0" y2="818.60" stroke="#ff8cfa" stroke-width="1.6" stroke-dasharray="5.7 2.9"/>
<line x1="1692.0" y1="842.97" x2="1772.0" y2="842.97" stroke="#ff8cfa" stroke-width="1.6"/>
</g>
<g fill="#838383" font-size="21">
<text x="1782.6" y="95.4" letter-spacing="0.25">Węgry</text>
<text x="1782.6" y="119.8" letter-spacing="0.14">Czechy</text>
<text x="1782.6" y="144.1" letter-spacing="1.00">Litwa</text>
<text x="1782.6" y="168.5" letter-spacing="-0.46">Polska</text>
<text x="1782.6" y="192.9" letter-spacing="0.10">Estonia</text>
<text x="1782.6" y="217.3" letter-spacing="0.53">Łotwa</text>
<text x="1782.6" y="241.6" letter-spacing="0.39">Słowacja</text>
<text x="1782.6" y="266.0" letter-spacing="0.20">Rumunia</text>
<text x="1782.6" y="290.4" letter-spacing="0.21">Bułgaria</text>
<text x="1782.6" y="314.7" letter-spacing="0.88">Austria</text>
<text x="1782.6" y="339.1" letter-spacing="0.38">Chorwacja</text>
<text x="1782.6" y="363.5" letter-spacing="-1.60">UE</text>
<text x="1782.6" y="387.8" letter-spacing="-0.17">Holandia</text>
<text x="1782.6" y="412.2" letter-spacing="0.70">Niemcy</text>
<text x="1782.6" y="436.6" letter-spacing="0.52">St. Zjednoczone</text>
<text x="1782.6" y="460.9" letter-spacing="0.49">Islandia</text>
<text x="1782.6" y="485.3" letter-spacing="0.58">Szwecja</text>
<text x="1782.6" y="509.7" letter-spacing="-0.04">Belgia</text>
<text x="1782.6" y="534.1" letter-spacing="0.34">Słowenia</text>
<text x="1782.6" y="558.4" letter-spacing="0.38">Włochy</text>
<text x="1782.6" y="582.8" letter-spacing="0.24">Norwegia</text>
<text x="1782.6" y="607.2" letter-spacing="0.66">Irlandia</text>
<text x="1782.6" y="631.5" letter-spacing="-0.47">Dania</text>
<text x="1782.6" y="655.9" letter-spacing="0.01">Finlandia</text>
<text x="1782.6" y="680.3" letter-spacing="0.16">Hiszpania</text>
<text x="1782.6" y="704.6" letter-spacing="0.12">Francja</text>
<text x="1782.6" y="729.0" letter-spacing="0.21">Portugalia</text>
<text x="1782.6" y="753.4" letter-spacing="0.44">Luksemburg</text>
<text x="1782.6" y="777.8" letter-spacing="0.23">Cypr</text>
<text x="1782.6" y="802.1" letter-spacing="-0.02">Grecja</text>
<text x="1782.6" y="826.5" letter-spacing="0.47">Malta</text>
<text x="1782.6" y="850.9" letter-spacing="0.69">Szwajcaria</text>
</g>
</svg></body></html>
